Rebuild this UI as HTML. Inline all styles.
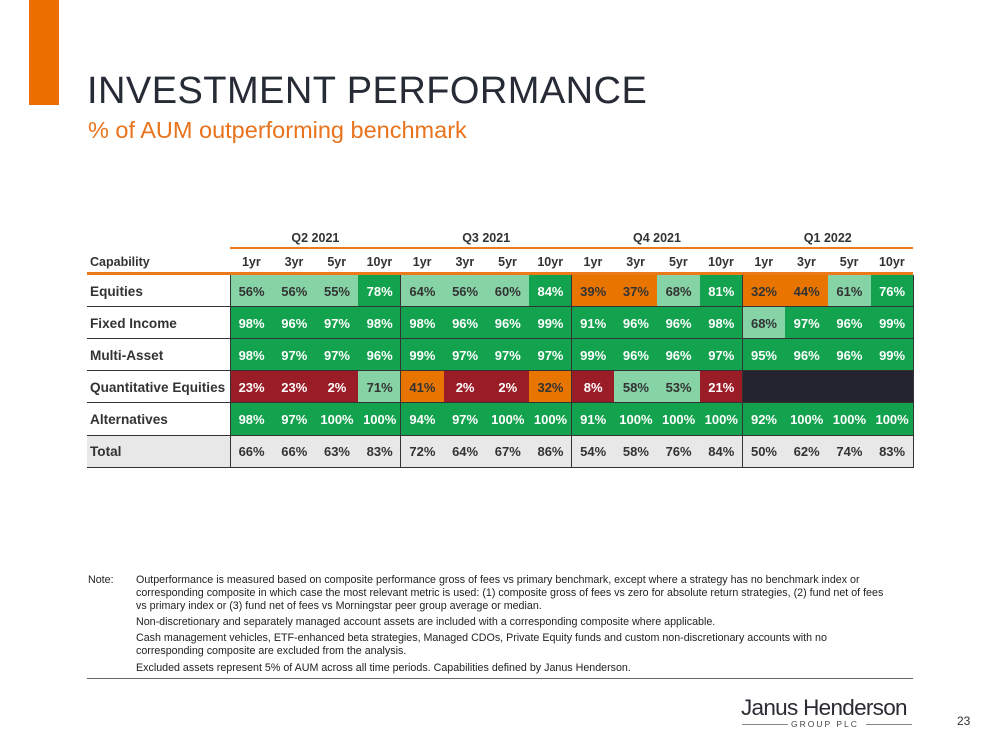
<!DOCTYPE html>
<html><head><meta charset="utf-8"><style>
body{margin:0;width:999px;height:750px;position:relative;background:#fff;font-family:"Liberation Sans",Arial,sans-serif;overflow:hidden}
.abs{position:absolute}
.cell{position:absolute;display:flex;align-items:center;justify-content:center;font-weight:bold;font-size:13px}
.note{position:absolute;left:136px;font-size:10.7px;color:#222;line-height:13px;width:758px}
</style></head><body>
<div class="abs" style="left:29px;top:0;width:30px;height:105px;background:#ec6e00"></div>
<div class="abs" style="left:87px;top:70px;font-size:38px;color:#262b36;letter-spacing:0.45px">INVESTMENT PERFORMANCE</div>
<div class="abs" style="left:88px;top:117px;font-size:23.5px;color:#e8731c">% of AUM outperforming benchmark</div>
<div id="tbl"></div>
<div class="abs" style="left:88px;top:574px;font-size:10.7px;color:#222">Note:</div>
<div class="note" style="top:574px">Outperformance is measured based on composite performance gross of fees vs primary benchmark, except where a strategy has no benchmark index or corresponding composite in which case the most relevant metric is used: (1) composite gross of fees vs zero for absolute return strategies, (2) fund net of fees vs primary index or (3) fund net of fees vs Morningstar peer group average or median.</div>
<div class="note" style="top:616px">Non-discretionary and separately managed account assets are included with a corresponding composite where applicable.</div>
<div class="note" style="top:632px">Cash management vehicles, ETF-enhanced beta strategies, Managed CDOs, Private Equity funds and custom non-discretionary accounts with no corresponding composite are excluded from the analysis.</div>
<div class="note" style="top:662px">Excluded assets represent 5% of AUM across all time periods. Capabilities defined by Janus Henderson.</div>
<div class="abs" style="left:87px;top:678px;width:826px;height:1px;background:#666"></div>
<div class="abs" style="left:741px;top:695px;font-size:22.5px;color:#2b2b33;letter-spacing:-0.7px">Janus Henderson</div>
<div class="abs" style="left:742px;top:724px;width:46px;height:1px;background:#888"></div>
<div class="abs" style="left:791px;top:719px;font-size:8.5px;color:#444;letter-spacing:2px">GROUP PLC</div>
<div class="abs" style="left:866px;top:724px;width:46px;height:1px;background:#888"></div>
<div class="abs" style="left:957px;top:714px;font-size:12px;color:#333">23</div>
<script>
const quarters=["Q2 2021","Q3 2021","Q4 2021","Q1 2022"];
const horizons=["1yr","3yr","5yr","10yr"];
const capabilities=["Equities","Fixed Income","Multi-Asset","Quantitative Equities","Alternatives"];
const equities=[56,56,55,78,64,56,60,84,39,37,68,81,32,44,61,76];
const fixedIncome=[98,96,97,98,98,96,96,99,91,96,96,98,68,97,96,99];
const multiAsset=[98,97,97,96,99,97,97,97,99,96,96,97,95,96,96,99];
const quantEquities=[23,23,2,71,41,2,2,32,8,58,53,21,null,null,null,null];
const alternatives=[98,97,100,100,94,97,100,100,91,100,100,100,92,100,100,100];
const totals=[66,66,63,83,72,64,67,86,54,58,76,84,50,62,74,83];
const series=[equities,fixedIncome,multiAsset,quantEquities,alternatives];
const T=document.getElementById('tbl');
const X0=230,CW=42.7,RY=275,RH=32.1,LX=87,RX=913;
function colX(i){return X0+i*CW;}
function rowY(r){return RY+r*RH;}
function style(v){
  if(v===null)return["#23242f","#fff"];
  if(v<25)return["#9a1c26","#fff"];
  if(v<50)return["#e87500","#333"];
  if(v<75)return["#86d3a6","#333"];
  return["#13a24d","#fff"];
}
function mk(tag,css,txt){const e=document.createElement(tag);e.style.cssText=css;if(txt!==undefined)e.textContent=txt;T.appendChild(e);return e;}
quarters.forEach((q,i)=>{
  const e=mk('div',`position:absolute;left:${colX(i*4)}px;top:231px;width:${CW*4}px;text-align:center;font-weight:bold;font-size:12.5px;color:#333`,q);
  
  
});
const ql=mk('div',`position:absolute;left:${X0}px;top:247px;width:${RX-X0}px;height:2px;background:#ec7a1a`);


const cap=mk('div',`position:absolute;left:${LX+3}px;top:255px;font-weight:bold;font-size:12.5px;color:#333`,"Capability");


for(let i=0;i<16;i++){
  const e=mk('div',`position:absolute;left:${colX(i)}px;top:255px;width:${CW}px;text-align:center;font-weight:bold;font-size:12.5px;color:#333`,horizons[i%4]);
  
  
}
const hl=mk('div',`position:absolute;left:${LX}px;top:272px;width:${RX-LX}px;height:2.5px;background:#ec7a1a`);


const rows=capabilities.concat(["Total"]);
const data=series.concat([totals]);
rows.forEach((name,r)=>{
  const y=rowY(r);
  if(r===5){const bg=mk('div',`position:absolute;left:${LX}px;top:${y}px;width:${RX-LX}px;height:${RH}px;background:#e8e8e8`);
    
    }
  const lab=mk('div',`position:absolute;left:${LX+3}px;top:${y}px;height:${RH}px;display:flex;align-items:center;font-weight:bold;font-size:13.6px;color:#333`,name);
  
  
  data[r].forEach((v,i)=>{
    const [bg,fg]=r===5?["transparent","#333"]:style(v);
    const c=mk('div',`left:${colX(i)}px;top:${y}px;width:${CW+0.5}px;height:${RH}px;background:${bg};color:${fg}`,v===null?"":v+"%");
    c.className='cell';
    
    
  });
  const ln=mk('div',`position:absolute;left:${LX}px;top:${y+RH-1}px;width:${RX-LX}px;height:1px;background:#333`);
  
  
});
for(let q=0;q<5;q++){
  const v=mk('div',`position:absolute;left:${colX(q*4)-0.5}px;top:${RY}px;width:1px;height:${RH*6}px;background:#333`);
  
  
}
</script>
</body></html>
